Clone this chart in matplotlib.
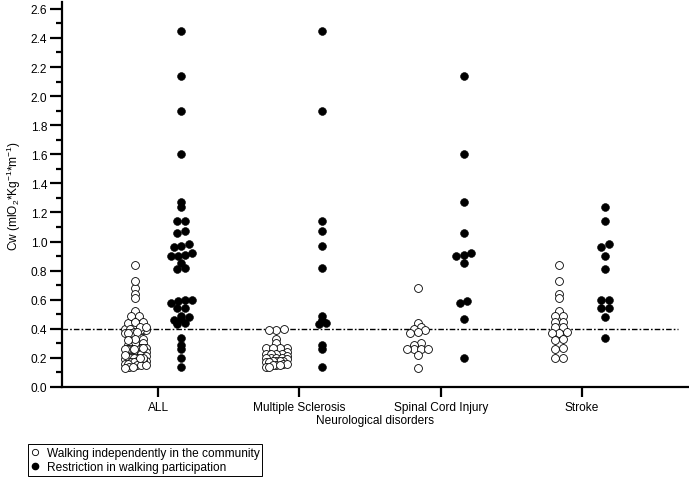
import matplotlib
matplotlib.use("Agg")
import matplotlib.pyplot as plt
import numpy as np
from matplotlib.lines import Line2D
from matplotlib.ticker import MultipleLocator

plt.rcParams['font.family'] = ['Liberation Sans', 'DejaVu Sans']
plt.rcParams['mathtext.fontset'] = 'custom'
plt.rcParams['mathtext.rm'] = 'Liberation Sans'

# Cw values
categories = ['ALL', 'Multiple Sclerosis', 'Spinal Cord Injury', 'Stroke']

ms_open = [0.40, 0.39, 0.39, 0.33, 0.30, 0.27, 0.27, 0.27, 0.27, 0.24, 0.23, 0.23,
           0.23, 0.23, 0.21, 0.20, 0.20, 0.20, 0.20, 0.19, 0.18, 0.18, 0.18, 0.18,
           0.17, 0.17, 0.16, 0.16, 0.15, 0.15, 0.15, 0.14, 0.14]
ms_filled = [2.45, 1.90, 1.14, 1.07, 0.97, 0.82, 0.49, 0.46, 0.44, 0.43, 0.29, 0.26, 0.14]

sci_open = [0.68, 0.44, 0.41, 0.40, 0.39, 0.38, 0.37, 0.30, 0.29, 0.26, 0.26, 0.26,
            0.26, 0.22, 0.13]
sci_filled = [2.14, 1.60, 1.27, 1.06, 0.91, 0.90, 0.92, 0.85, 0.59, 0.58, 0.47, 0.20]

stroke_open = [0.84, 0.73, 0.64, 0.61, 0.52, 0.49, 0.49, 0.45, 0.45, 0.41, 0.41, 0.38,
               0.37, 0.37, 0.33, 0.32, 0.27, 0.26, 0.20, 0.20]
stroke_filled = [1.24, 1.14, 0.98, 0.96, 0.90, 0.81, 0.60, 0.60, 0.54, 0.54, 0.48, 0.34]

# ALL is the pooled sample of the three groups
all_open = ms_open + sci_open + stroke_open
all_filled = ms_filled + sci_filled + stroke_filled

open_groups = [all_open, ms_open, sci_open, stroke_open]
filled_groups = [all_filled, ms_filled, sci_filled, stroke_filled]

threshold = 0.4

fig = plt.figure(figsize=(6.89, 4.81), dpi=100)
ax = fig.add_axes([62 / 689, 93 / 481, 627 / 689, 384.7 / 481])
ax.set_xlim(-0.68, 3.757)
ax.set_ylim(0, 2.645)

# pixel scale of the axes, used for spreading the dots sideways
px_x = ax.bbox.width / (3.757 + 0.68)
px_y = ax.bbox.height / 2.645
dot_px = 7.5


def spread(values, row_px=4.0, half_px=10.5):
    vals = np.asarray(values, dtype=float)
    order = np.argsort(vals)
    offs = np.zeros(len(vals))
    rows, cur, start = [], [], None
    for i in order:
        y = vals[i] * px_y
        if cur and y - start > row_px:
            rows.append(cur)
            cur = []
        if not cur:
            start = y
        cur.append(i)
    rows.append(cur)
    for r in rows:
        n = len(r)
        if n > 1:
            step = min(dot_px, 2 * half_px / (n - 1))
            offs[r] = (np.arange(n) - (n - 1) / 2) * step
    return offs / px_x


shift = 23 / px_x
for k in range(len(categories)):
    yo = np.array(open_groups[k])
    ax.scatter(k - shift + spread(yo), yo, s=32, facecolor='white', edgecolor='black',
               linewidth=0.6, zorder=3)
    yf = np.array(filled_groups[k])
    ax.scatter(k + shift + spread(yf), yf, s=32, facecolor='black', edgecolor='black',
               linewidth=0.4, zorder=3)

ax.hlines(threshold, -0.68, 3.68, color='black', linewidth=1.0,
          linestyles=(0, (4, 1.5, 1.2, 1.5)), zorder=2)

for s in ['top', 'right']:
    ax.spines[s].set_visible(False)
for s in ['left', 'bottom']:
    ax.spines[s].set_linewidth(1.6)

ax.set_xticks(range(len(categories)))
ax.set_xticklabels(categories, fontsize=8.6)
ax.yaxis.set_major_locator(MultipleLocator(0.2))
ax.yaxis.set_minor_locator(MultipleLocator(0.1))
ax.set_yticks(np.arange(0, 2.61, 0.2))
ax.set_yticklabels(['%.1f' % v for v in np.arange(0, 2.61, 0.2)], fontsize=8.6)
ax.tick_params(axis='y', which='major', length=9, width=1.6, pad=1.5)
ax.tick_params(axis='y', which='minor', length=4.5, width=1.6)
ax.tick_params(axis='x', which='major', length=7, width=1.6, pad=3)

ax.set_xlabel('Neurological disorders', fontsize=8.6, labelpad=1)
ax.set_ylabel(r'Cw (mlO$_\mathregular{2}$*Kg$^\mathregular{-1}$*m$^\mathregular{-1}$)',
              fontsize=8.6, labelpad=6)

handles = [Line2D([], [], marker='o', linestyle='none', markersize=4.5,
                  markerfacecolor='white', markeredgecolor='black', markeredgewidth=0.6),
           Line2D([], [], marker='o', linestyle='none', markersize=4.5,
                  markerfacecolor='black', markeredgecolor='black')]
leg = fig.legend(handles, ['Walking independently in the community',
                           'Restriction in walking participation'],
                 loc='upper left', bbox_to_anchor=(28 / 689, 1 - 445 / 481),
                 fontsize=8.6, frameon=True, fancybox=False, edgecolor='black',
                 framealpha=1, handlelength=0.6, handletextpad=0.7, borderpad=0.25,
                 labelspacing=0.15, borderaxespad=0)
leg.get_frame().set_linewidth(0.7)

fig.savefig('out.png', dpi=100)
